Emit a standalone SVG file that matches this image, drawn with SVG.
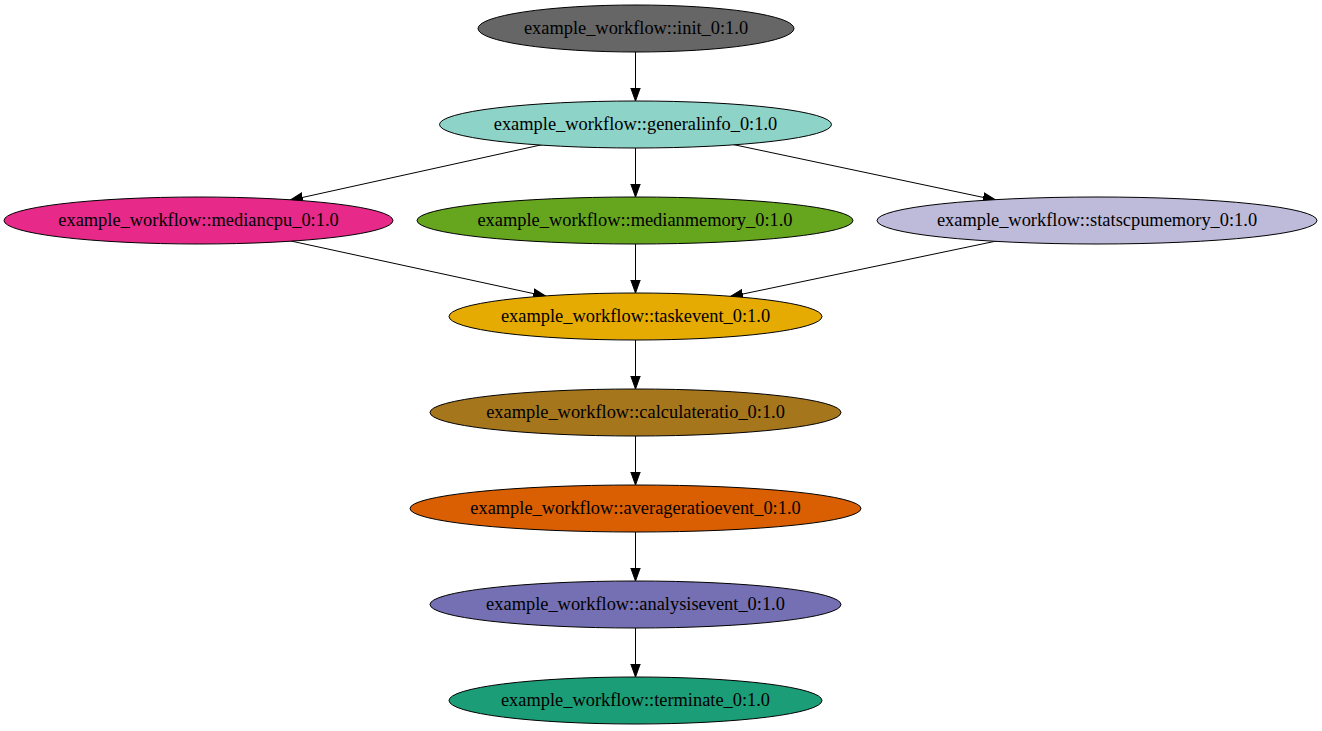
<svg xmlns="http://www.w3.org/2000/svg" width="1322" height="731" viewBox="0 0 1322 731">
  <style>
    .node ellipse { stroke: #000; stroke-width: 1; }
    .node text { font-family: "Liberation Serif", "Times New Roman", serif; font-size: 18.4px; text-anchor: middle; fill: #000; }
    .edges path { fill: none; stroke: #000; stroke-width: 1; marker-end: url(#arrow); }
  </style>
  <defs>
    <marker id="arrow" markerUnits="userSpaceOnUse" markerWidth="14" markerHeight="12" viewBox="0 -6 14 12" refX="13" refY="0" orient="auto">
      <path d="M0,-4.7 L13,0 L0,4.7 Z" fill="#000" stroke="#000" stroke-width="1"/>
    </marker>
  </defs>
  <rect width="1322" height="731" fill="#fff"/>

  <g class="edges" id="edges">
    <path d="M635.5,52 L635.5,101"/>
    <path d="M542,144.7 L290,200.2"/>
    <path d="M635.5,148 L635.5,197"/>
    <path d="M733,144.5 L996,200.1"/>
    <path d="M290,240.8 L546,296.3"/>
    <path d="M635.5,244 L635.5,293"/>
    <path d="M997,240.9 L730,296.7"/>
    <path d="M635.5,340 L635.5,389"/>
    <path d="M635.5,436 L635.5,485"/>
    <path d="M635.5,532 L635.5,581"/>
    <path d="M635.5,628 L635.5,677"/>
  </g>

  <g class="node" id="init">
    <ellipse cx="636" cy="28.5" rx="158" ry="23.5" fill="#666666"/>
    <text x="636" y="34">example_workflow::init_0:1.0</text>
  </g>
  <g class="node" id="generalinfo">
    <ellipse cx="635.5" cy="124.5" rx="196" ry="23.5" fill="#8dd3c7"/>
    <text x="635.5" y="130">example_workflow::generalinfo_0:1.0</text>
  </g>
  <g class="node" id="mediancpu">
    <ellipse cx="198.5" cy="220.5" rx="194.5" ry="23.5" fill="#e7298a"/>
    <text x="198.5" y="226">example_workflow::mediancpu_0:1.0</text>
  </g>
  <g class="node" id="medianmemory">
    <ellipse cx="635" cy="220.5" rx="218" ry="23.5" fill="#66a61e"/>
    <text x="635" y="226">example_workflow::medianmemory_0:1.0</text>
  </g>
  <g class="node" id="statscpumemory">
    <ellipse cx="1097" cy="220.5" rx="220" ry="23.5" fill="#bebada"/>
    <text x="1097" y="226">example_workflow::statscpumemory_0:1.0</text>
  </g>
  <g class="node" id="taskevent">
    <ellipse cx="635.5" cy="316.5" rx="186.5" ry="23.5" fill="#e6ab02"/>
    <text x="635.5" y="322">example_workflow::taskevent_0:1.0</text>
  </g>
  <g class="node" id="calculateratio">
    <ellipse cx="635.5" cy="412.5" rx="205.5" ry="23.5" fill="#a6761d"/>
    <text x="635.5" y="418">example_workflow::calculateratio_0:1.0</text>
  </g>
  <g class="node" id="averageratioevent">
    <ellipse cx="635.5" cy="508.5" rx="225.5" ry="23.5" fill="#d95f02"/>
    <text x="635.5" y="514">example_workflow::averageratioevent_0:1.0</text>
  </g>
  <g class="node" id="analysisevent">
    <ellipse cx="635.5" cy="604.5" rx="205.5" ry="23.5" fill="#7570b3"/>
    <text x="635.5" y="610">example_workflow::analysisevent_0:1.0</text>
  </g>
  <g class="node" id="terminate">
    <ellipse cx="635.5" cy="700.5" rx="186.5" ry="23.5" fill="#1b9e77"/>
    <text x="635.5" y="706">example_workflow::terminate_0:1.0</text>
  </g>
</svg>
